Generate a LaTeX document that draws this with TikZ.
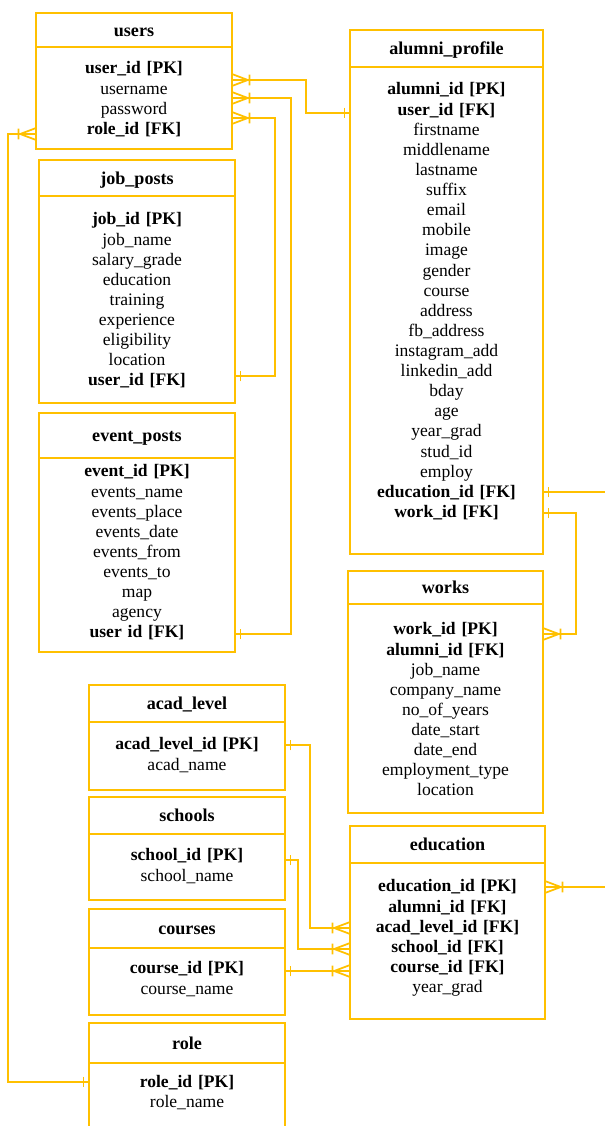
\documentclass[tikz,border=0pt]{standalone}
\usepackage{fontspec}
\setmainfont{Liberation Serif}
\usetikzlibrary{positioning,calc}
\definecolor{cgold}{HTML}{FFC000}

% crow's foot with bar (many) and single bar (one)
\pgfdeclarearrow{
  name=crowbar,
  setup code={
    \pgfarrowssettipend{0pt}
    \pgfarrowssetlineend{0pt}
    \pgfarrowssetbackend{-10.5pt}
    \pgfarrowssetvisualbackend{-10.5pt}
    \pgfarrowshullpoint{0pt}{3.5pt}
    \pgfarrowshullpoint{0pt}{-3.5pt}
    \pgfarrowshullpoint{-10.5pt}{3pt}
    \pgfarrowshullpoint{-10.5pt}{-3pt}
  },
  drawing code={
    \pgfpathmoveto{\pgfqpoint{0pt}{3.4pt}}
    \pgfpathlineto{\pgfqpoint{-9pt}{0pt}}
    \pgfpathlineto{\pgfqpoint{0pt}{-3.4pt}}
    \pgfpathmoveto{\pgfqpoint{-10pt}{3pt}}
    \pgfpathlineto{\pgfqpoint{-10pt}{-3pt}}
    \pgfusepathqstroke
  }
}
\pgfdeclarearrow{
  name=one,
  setup code={
    \pgfarrowssettipend{0pt}
    \pgfarrowssetlineend{0pt}
    \pgfarrowssetbackend{-3.5pt}
    \pgfarrowssetvisualbackend{-3.5pt}
    \pgfarrowshullpoint{0pt}{0pt}
    \pgfarrowshullpoint{-3.5pt}{3pt}
    \pgfarrowshullpoint{-3.5pt}{-3pt}
  },
  drawing code={
    \pgfpathmoveto{\pgfqpoint{-3.2pt}{3pt}}
    \pgfpathlineto{\pgfqpoint{-3.2pt}{-3pt}}
    \pgfusepathqstroke
  }
}

\begin{document}
\begin{tikzpicture}[x=0.02cm,y=-0.02cm,
  font=\fontsize{10}{11.45}\selectfont,node distance=0pt,
  hd/.style={draw=cgold,line width=1.1pt,anchor=north west,inner sep=0pt,outer sep=0pt,
             minimum width=3.92cm,minimum height=#1,text height=8pt,text depth=0.8pt,
             font=\fontsize{10.3}{12}\selectfont\bfseries},
  bd/.style 2 args={draw=cgold,line width=1.1pt,align=center,inner sep=0pt,outer sep=0pt,
             text width=3.92cm,text height=#1,text depth=#2},
  rel/.style={cgold,line width=1pt}]
  \useasboundingbox (0,0) rectangle (605,1126);

  \node[hd=0.68cm] (users-h) at (36,13) {users};
  \node[bd={0.54cm}{1.5cm},below=of users-h] (users)
    {\textbf{user\_id [PK]}\\username\\password\\\textbf{role\_id [FK]}};

  \node[hd=0.72cm] (jobs-h) at (39,160) {job\_posts};
  \node[bd={0.58cm}{3.56cm},below=of jobs-h] (jobs)
    {\textbf{job\_id [PK]}\\job\_name\\salary\_grade\\education\\training\\experience\\
     eligibility\\location\\\textbf{user\_id [FK]}};

  \node[hd=0.9cm] (events-h) at (39,413) {event\_posts};
  \node[bd={0.38cm}{3.5cm},below=of events-h] (events)
    {\textbf{event\_id [PK]}\\events\_name\\events\_place\\events\_date\\events\_from\\
     events\_to\\map\\agency\\\textbf{user id [FK]}};

  \node[hd=0.74cm,minimum width=3.86cm] (alumni-h) at (350,30) {alumni\_profile};
  \node[bd={0.56cm}{9.18cm},text width=3.86cm,below=of alumni-h] (alumni)
    {\textbf{alumni\_id [PK]}\\\textbf{user\_id [FK]}\\firstname\\middlename\\lastname\\
     suffix\\email\\mobile\\image\\gender\\course\\address\\fb\_address\\instagram\_add\\
     linkedin\_add\\bday\\age\\year\_grad\\stud\_id\\employ\\
     \textbf{education\_id [FK]}\\\textbf{work\_id [FK]}};

  \node[hd=0.66cm,minimum width=3.9cm] (works-h) at (348,571) {works};
  \node[bd={0.62cm}{3.56cm},text width=3.9cm,below=of works-h] (works)
    {\textbf{work\_id [PK]}\\\textbf{alumni\_id [FK]}\\job\_name\\company\_name\\
     no\_of\_years\\date\_start\\date\_end\\employment\_type\\location};

  \node[hd=0.74cm] (acad-h) at (89,685) {acad\_level};
  \node[bd={0.56cm}{0.8cm},below=of acad-h] (acad)
    {\textbf{acad\_level\_id [PK]}\\acad\_name};

  \node[hd=0.74cm] (schools-h) at (89,797) {schools};
  \node[bd={0.54cm}{0.78cm},below=of schools-h] (schools)
    {\textbf{school\_id [PK]}\\school\_name};

  \node[hd=0.78cm] (courses-h) at (89,909) {courses};
  \node[bd={0.52cm}{0.82cm},below=of courses-h] (courses)
    {\textbf{course\_id [PK]}\\course\_name};

  \node[hd=0.8cm] (role-h) at (89,1023) {role};
  \node[bd={0.48cm}{1.26cm},below=of role-h] (role)
    {\textbf{role\_id [PK]}\\role\_name};

  \node[hd=0.74cm,minimum width=3.9cm] (edu-h) at (350,826) {education};
  \node[bd={0.58cm}{2.54cm},text width=3.9cm,below=of edu-h] (edu)
    {\textbf{education\_id [PK]}\\\textbf{alumni\_id [FK]}\\\textbf{acad\_level\_id [FK]}\\
     \textbf{school\_id [FK]}\\\textbf{course\_id [FK]}\\year\_grad};

  \draw[rel,crowbar-one] ($(users.north east)+(0,33)$) -- ++(74,0) |- ($(alumni.north west)+(0,46)$);
  \draw[rel,crowbar-one] ($(users.north east)+(0,51)$) -- ++(59,0) |- ($(events.north east)+(0,176)$);
  \draw[rel,crowbar-one] ($(users.north east)+(0,71)$) -- ++(43,0) |- ($(jobs.north east)+(0,180)$);
  \draw[rel,crowbar-one] ($(users.north west)+(0,87)$) -- ++(-28,0) |- ($(role.north west)+(0,19)$);
  \draw[rel,one-crowbar] ($(alumni.north east)+(0,446)$) -- ++(33,0) |- ($(works.north east)+(0,30)$);
  \draw[rel,one-crowbar] ($(alumni.north east)+(0,425)$) -- ++(77,0) |- ($(edu.north east)+(0,24)$);
  \draw[rel,one-crowbar] ($(acad.north east)+(0,23)$) -- ++(25,0) |- ($(edu.north west)+(0,65)$);
  \draw[rel,one-crowbar] ($(schools.north east)+(0,26)$) -- ++(13,0) |- ($(edu.north west)+(0,86)$);
  \draw[rel,one-crowbar] ($(courses.north east)+(0,23)$) -- ($(edu.north west)+(0,108)$);
\end{tikzpicture}
\end{document}
